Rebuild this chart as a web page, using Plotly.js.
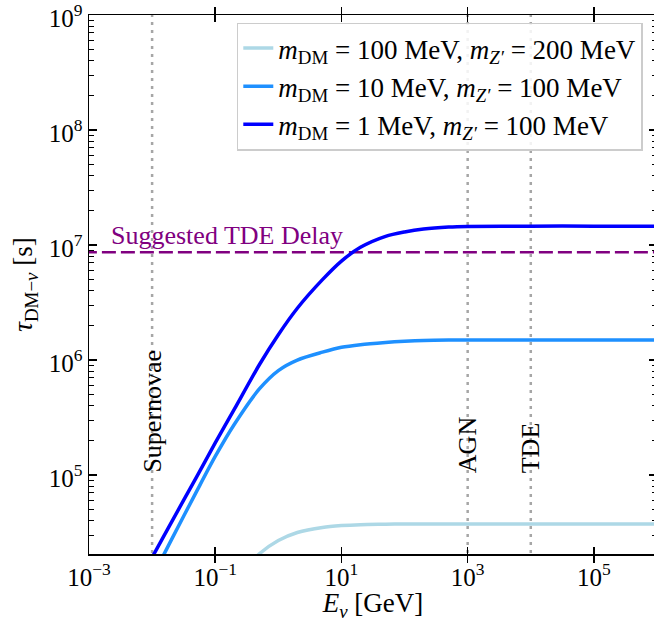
<!DOCTYPE html>
<html>
<head>
<meta charset="utf-8">
<script src="https://cdn.plot.ly/plotly-3.0.1.min.js"></script>
<style>
  html, body { margin: 0; padding: 0; overflow: hidden; background: #fff; }
  #chart { width: 657px; height: 622px; }
</style>
</head>
<body>
<div id="chart"></div>
<script>
// Neutrino energy grid (GeV)
const energies = [0.005, 0.01, 0.02, 0.05, 0.1, 0.2, 0.5, 1, 2, 5, 10, 20, 50, 100, 200, 500, 1000, 10000, 100000, 1000000];

// tau_DM-nu (s)
const tauDM1 = [9.6e3, 1.92e4, 3.84e4, 9.5e4, 1.9e5, 3.72e5, 9.1e5, 1.66e6, 2.82e6, 5.0e6, 7.25e6, 9.55e6, 1.19e7, 1.30e7, 1.38e7, 1.435e7, 1.452e7, 1.46e7, 1.46e7, 1.46e7];
const tauDM10 = [6.5e3, 1.29e4, 2.7e4, 7.1e4, 1.45e5, 2.75e5, 5.6e5, 8.1e5, 1.0e6, 1.17e6, 1.29e6, 1.36e6, 1.42e6, 1.455e6, 1.48e6, 1.49e6, 1.49e6, 1.49e6, 1.49e6, 1.49e6];
const tauDM100 = [null, null, null, null, 5.0e3, 1.17e4, 2.06e4, 2.69e4, 3.16e4, 3.5e4, 3.63e4, 3.70e4, 3.73e4, 3.75e4, 3.75e4, 3.75e4, 3.75e4, 3.75e4, 3.75e4, 3.75e4];

const seriesNames = [
  '<i>m</i><sub>DM</sub> = 100 MeV, <i>m</i><sub><i>Z′</i></sub> = 200 MeV',
  '<i>m</i><sub>DM</sub> = 10 MeV, <i>m</i><sub><i>Z′</i></sub> = 100 MeV',
  '<i>m</i><sub>DM</sub> = 1 MeV, <i>m</i><sub><i>Z′</i></sub> = 100 MeV'
];
const seriesColors = ['#add8e6', '#1e90ff', '#0000ff'];

// Source energies (GeV) and labels
const sourceEnergies = [0.01, 1000, 10000];
const sourceLabels = ['Supernovae', 'AGN', 'TDE'];
const labelTau = 1e5;

// Suggested delay (s)
const tdeDelay = 8.64e6;
const tdeDelayLabel = 'Suggested TDE Delay';
const tdeLabelEnergy = 0.00205;

const xTickVals = [1e-3, 1e-1, 1e1, 1e3, 1e5];
const xTickText = ['10<sup>−3</sup>', '10<sup>−1</sup>', '10<sup>1</sup>', '10<sup>3</sup>', '10<sup>5</sup>'];
const yTickVals = [1e5, 1e6, 1e7, 1e8, 1e9];
const yTickText = ['10<sup>5</sup>', '10<sup>6</sup>', '10<sup>7</sup>', '10<sup>8</sup>', '10<sup>9</sup>'];

// minor tick positions on the y axis: 2..9 x each decade
const yMinorVals = [];
for (let d = 4; d <= 8; d++) for (let m = 2; m <= 9; m++) yMinorVals.push(m * Math.pow(10, d));

// main y axis carries all ticks (minor ones unlabeled); y2 adds the longer major ticks
const yAllVals = yTickVals.concat(yMinorVals);
const yAllText = yTickText.concat(yMinorVals.map(() => ''));

const FONT = 'Liberation Serif, Times New Roman, serif';
const Y_RANGE = [4.313, 9.0005];

const traces = [];
sourceEnergies.forEach(e => {
  traces.push({
    x: [e, e], y: [1e3, 1e10], mode: 'lines', showlegend: false, hoverinfo: 'skip',
    line: {color: '#a6a6a6', width: 2.5, dash: '3px,5px'}
  });
});
traces.push({
  x: [1e-4, 1e7], y: [tdeDelay, tdeDelay], mode: 'lines', showlegend: false, hoverinfo: 'skip',
  line: {color: '#800080', width: 2.5, dash: '14px,5px'}
});
const curveData = [tauDM100, tauDM10, tauDM1];
curveData.forEach((ys, i) => {
  traces.push({
    x: energies, y: ys, mode: 'lines', name: seriesNames[i],
    line: {color: seriesColors[i], width: 3.5, shape: 'spline', smoothing: 0.8},
    connectgaps: false
  });
});
traces.push({x: [1], y: [1e6], yaxis: 'y2', mode: 'markers', marker: {opacity: 0}, showlegend: false, hoverinfo: 'skip'});

const annotations = sourceEnergies.map((e, i) => ({
  x: Math.log10(e), y: Math.log10(labelTau), xref: 'x', yref: 'y',
  text: sourceLabels[i], textangle: -90, showarrow: false,
  xanchor: 'center', yanchor: 'bottom',
  font: {family: FONT, size: 26, color: '#000'}
}));
annotations.push({
  x: Math.log10(tdeLabelEnergy), y: Math.log10(tdeDelay), xref: 'x', yref: 'y',
  text: tdeDelayLabel, showarrow: false, xanchor: 'left', yanchor: 'bottom',
  font: {family: FONT, size: 26, color: '#800080'}
});

const layout = {
  width: 657, height: 622,
  margin: {l: 89, r: 0, t: 15, b: 68},
  paper_bgcolor: '#fff', plot_bgcolor: '#fff',
  font: {family: FONT, size: 24, color: '#000'},
  showlegend: true,
  legend: {
    x: 0.975, y: 0.986, xanchor: 'right', yanchor: 'top',
    bgcolor: 'rgba(255,255,255,0.85)', bordercolor: '#cccccc', borderwidth: 1.5,
    font: {family: FONT, size: 27, color: '#000'},
    tracegroupgap: 0
  },
  xaxis: {
    type: 'log', range: [-3, 6],
    tickmode: 'array', tickvals: xTickVals, ticktext: xTickText,
    ticks: 'inside', ticklen: 7, tickwidth: 1.5, tickcolor: '#000',
    showline: true, linecolor: '#000', linewidth: 1.5, mirror: 'allticks',
    showgrid: false, zeroline: false,
    tickfont: {family: FONT, size: 25},
    title: {text: '<i>E</i><sub><i>ν</i></sub> [GeV]', font: {family: FONT, size: 27}, standoff: 4}
  },
  yaxis: {
    type: 'log', range: Y_RANGE,
    tickmode: 'array', tickvals: yAllVals, ticktext: yAllText,
    ticks: 'inside', ticklen: 5, tickwidth: 1.2, tickcolor: '#000',
    ticklabeloverflow: 'allow', ticklabelshift: 3,
    showline: true, linecolor: '#000', linewidth: 1.5, mirror: 'allticks',
    showgrid: false, zeroline: false,
    tickfont: {family: FONT, size: 25},
    title: {text: '<i>τ</i><sub>DM−<i>ν</i></sub> [s]', font: {family: FONT, size: 27}, standoff: 8}
  },
  yaxis2: {
    type: 'log', range: Y_RANGE, overlaying: 'y', side: 'left',
    tickmode: 'array', tickvals: yTickVals,
    ticks: 'inside', ticklen: 8, tickwidth: 1.5, tickcolor: '#000',
    showticklabels: false, showline: true, linecolor: '#000', linewidth: 1.5, mirror: 'allticks',
    showgrid: false, zeroline: false
  },
  annotations: annotations
};

Plotly.newPlot('chart', traces, layout, {displayModeBar: false, staticPlot: true});
</script>
</body>
</html>
